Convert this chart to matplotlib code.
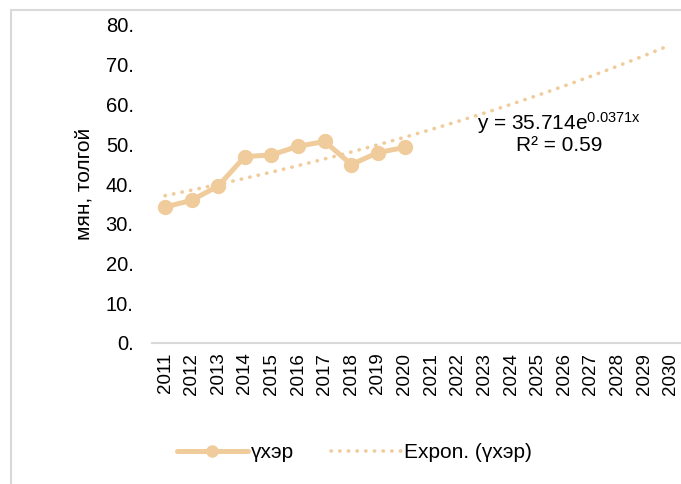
import numpy as np
import matplotlib
matplotlib.use("Agg")
import matplotlib.pyplot as plt
from matplotlib.ticker import FuncFormatter
from matplotlib.patches import Rectangle

plt.rcParams['font.family'] = ['Liberation Sans', 'DejaVu Sans']
plt.rcParams['mathtext.fontset'] = 'custom'
plt.rcParams['mathtext.rm'] = 'Liberation Sans'
plt.rcParams['mathtext.it'] = 'Liberation Sans'

# === DATA ===
years = list(range(2011, 2031))
obs_years = list(range(2011, 2021))
cattle = [34.2, 35.9, 39.5, 46.9, 47.3, 49.5, 50.7, 44.9, 47.9, 49.2]

# exponential trend, y = a * exp(b * x), x = 1 for 2011
trend_a = 35.714
trend_b = 0.0371
trend_r2 = 0.59

color = '#F0CC9C'

fig = plt.figure(figsize=(6.81, 4.84), dpi=100)

# chart frame
fig.patches.append(Rectangle((11 / 681, -0.1), 1.2, 1 - 9.5 / 484 + 0.1,
                             transform=fig.transFigure, fill=False,
                             edgecolor='#d9d9d9', linewidth=1.5))

ax = fig.add_axes([151.7 / 681, 1 - 343 / 484, 532.3 / 681, (343 - 25) / 484])

x_all = np.arange(len(years))
x_obs = np.arange(len(obs_years))
trend = trend_a * np.exp(trend_b * (x_all + 1))

ax.plot(x_obs, cattle, color=color, linewidth=3.6, marker='o',
        markersize=10, label='үхэр', solid_capstyle='round')
ax.plot(x_all, trend, color=color, linewidth=2.6, linestyle=(0, (0.1, 2.3)),
        dash_capstyle='round', label='Expon. (үхэр)')

ax.set_xlim(-0.5, len(years) - 0.5)
ax.set_ylim(0, 80)
ax.set_yticks(range(0, 81, 10))
ax.yaxis.set_major_formatter(FuncFormatter(lambda v, p: f"{v:.0f}."))
ax.set_xticks(x_all)
ax.set_xticklabels([str(y) for y in years], rotation=90)

for s in ['top', 'right', 'left']:
    ax.spines[s].set_visible(False)
ax.spines['bottom'].set_color('#d9d9d9')
ax.spines['bottom'].set_linewidth(1.5)
ax.tick_params(axis='both', length=0)
ax.tick_params(axis='y', labelsize=14.5, pad=13)
ax.tick_params(axis='x', labelsize=13.5, pad=7)

ax.set_ylabel('мян, толгой', fontsize=15)
ax.yaxis.set_label_coords(-0.110, 0.5)

ax.text(14.8, 55.3, r'y = 35.714e$^{0.0371x}$', fontsize=15,
        ha='center', va='center')
ax.text(14.8, 49.6, f'R² = {trend_r2}', fontsize=15, ha='center', va='center')

leg = fig.legend(loc='center left', bbox_to_anchor=(177 / 681, 1 - 453 / 484),
                 ncol=2, frameon=False, fontsize=15, handlelength=3.4,
                 handletextpad=0.15, columnspacing=1.75,
                 borderpad=0, borderaxespad=0, markerscale=0.8)

fig.savefig('out.png', dpi=100)
